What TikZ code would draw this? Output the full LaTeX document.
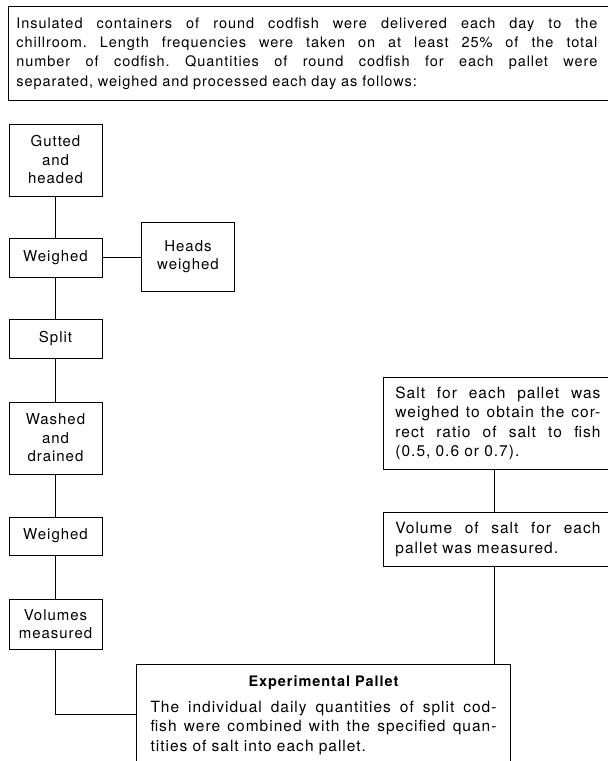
\documentclass[tikz,border=0pt]{standalone}
\usepackage{fontspec}
\setmainfont{TeX Gyre Heros}[LetterSpace=6.5]
\newcommand\jl[2]{\makebox[#1][s]{\spaceskip=0.25em plus 1fil minus 0.15em\xspaceskip=\spaceskip #2}}
\begin{document}
\begin{tikzpicture}[x=1pt,y=-1pt,
  box/.style={draw, line width=0.8pt, inner sep=0pt, minimum width=93pt, align=center, font=\fontsize{15}{18.5}\selectfont},
  para/.style={draw, line width=0.8pt, align=left, font=\fontsize{15.5}{19.3}\selectfont},
  link/.style={line width=0.8pt}]
\useasboundingbox (0,0) rectangle (608,761);
\clip (0,0) rectangle (608,761);

\node[para, anchor=north west, inner xsep=8pt, inner ysep=0pt, text width=600pt, minimum height=94pt,
      font=\fontsize{14.5}{19.3}\selectfont] (intro) at (8,6)
 {\jl{581pt}{Insulated containers of round codfish were delivered each day to the}\\
  \jl{581pt}{chillroom. Length frequencies were taken on at least 25\% of the total}\\
  \jl{581pt}{number of codfish. Quantities of round codfish for each pallet were}\\
  separated, weighed and processed each day as follows:};

\node[box, minimum height=72pt] (gutted) at (55.5,160) {Gutted\\and\\headed};
\node[box, minimum height=39pt] (weighA) at (55.5,257.5) {Weighed};
\node[box, minimum height=69pt] (heads) at (188,256.5) {Heads\\weighed};
\node[box, minimum height=39pt] (split) at (55.5,338.5) {Split};
\node[box, minimum height=72pt] (washed) at (55.5,438) {Washed\\and\\drained};
\node[box, minimum height=38pt] (weighB) at (55.5,536) {Weighed};
\node[box, minimum height=50pt] (volumes) at (55.5,624) {Volumes\\measured};

\node[para, anchor=north west, inner xsep=12pt, inner ysep=0pt, text width=225pt, minimum height=92pt] (salt) at (383,377)
 {\jl{205pt}{Salt for each pallet was}\\
  \jl{205pt}{weighed to obtain the cor-}\\
  \jl{205pt}{rect ratio of salt to fish}\\
  (0.5, 0.6 or 0.7).};
\node[para, anchor=north west, inner xsep=12pt, inner ysep=0pt, text width=225pt, minimum height=54pt] (volsalt) at (383,512)
 {\jl{205pt}{Volume of salt for each}\\
  pallet was measured.};

\node[para, align=center, anchor=north, inner xsep=14pt, inner ysep=11pt, text width=346pt] (exp) at (323.5,664)
 {{\bfseries\fontsize{14.5}{19.3}\selectfont Experimental Pallet}\\[7pt]
  \jl{346pt}{The individual daily quantities of split cod-}\\
  \jl{346pt}{fish were combined with the specified quan-}\\
  \makebox[346pt][l]{tities of salt into each pallet.\rule[-40pt]{0pt}{0pt}}};

\draw[link] (gutted.south) -- (weighA.north);
\draw[link] (weighA.east) -- (weighA.east -| heads.west);
\draw[link] (weighA.south) -- (split.north);
\draw[link] (split.south) -- (washed.north);
\draw[link] (washed.south) -- (weighB.north);
\draw[link] (weighB.south) -- (volumes.north);
\draw[link] (volumes.south) |- ([yshift=-50pt]exp.north west);
\coordinate (rx) at (494,0);
\draw[link] (salt.south -| rx) -- (volsalt.north -| rx);
\draw[link] (volsalt.south -| rx) -- (exp.north -| rx);
\end{tikzpicture}
\end{document}
